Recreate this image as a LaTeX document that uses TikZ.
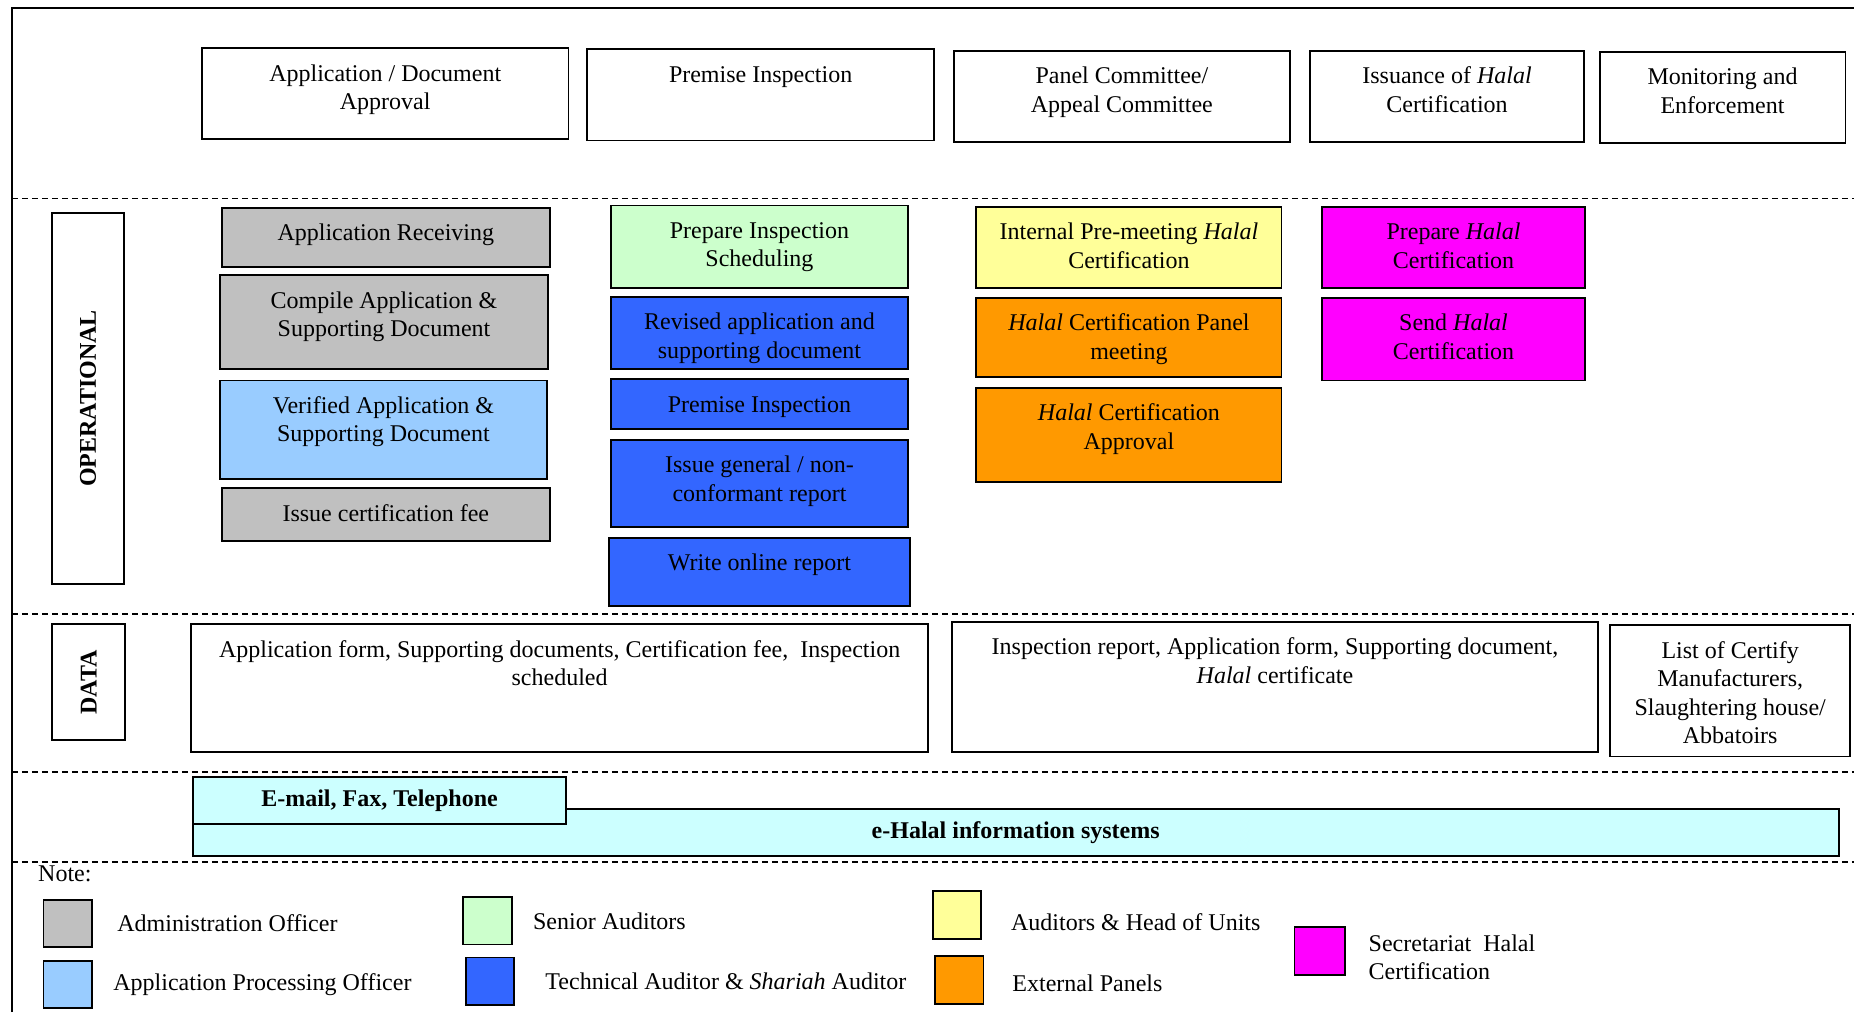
\documentclass[tikz,border=0pt]{standalone}
\usepackage{xcolor}
\usepackage{fontspec}
\usepackage{tikz}
\usetikzlibrary{positioning}
\setmainfont{Liberation Serif}

\definecolor{admgray}{HTML}{C0C0C0}
\definecolor{apoblue}{HTML}{99CCFF}
\definecolor{srgreen}{HTML}{CCFFCC}
\definecolor{techblue}{HTML}{3366FF}
\definecolor{headyellow}{HTML}{FFFF99}
\definecolor{panelorange}{HTML}{FF9900}
\definecolor{secmagenta}{HTML}{FF00FF}
\definecolor{syscyan}{HTML}{CCFFFF}

\def\upx{0.5912pt}

\begin{document}
\fontsize{12pt}{14.2pt}\selectfont
\begin{tikzpicture}[x=0.5912pt, y=-0.5912pt,
    cell/.style={draw, line width=0.95pt, anchor=north west, align=center, inner sep=0pt},
    % width, height, number of lines
    wh/.style n args={3}{minimum width=#1*\upx, text height={(4+24*#3)*\upx}, text depth={(#2-4-24*#3)*\upx}},
    sysbox/.style={draw, line width=0.95pt, fill=syscyan, font=\bfseries, inner sep=0pt},
    swatch/.style={draw, line width=0.95pt, anchor=north west, inner sep=0pt, minimum width=41*\upx, minimum height=40*\upx},
    legend/.style={inner sep=0pt, align=left},
    sep/.style={dash pattern=on 3pt off 2pt, line width=0.85pt}]
    \useasboundingbox (0,0) rectangle (1568,856);

    % frame and row separators
    \draw[line width=1pt] (10,856) -- (10,7) -- (1568,7);
    \foreach \y in {168,519,653,729}
        \draw[sep] (10,\y) -- (1568,\y);

    % stages
    \node[cell, wh={310}{77}{2}] (approval) at (170,40) {Application / Document\\Approval};
    \node[cell, wh={293}{77}{1}] (inspect) at (496,41) {Premise Inspection};
    \node[cell, wh={284}{77}{2}] (committee) at (806,42) {Panel Committee/\\Appeal Committee};
    \node[cell, wh={232}{77}{2}] (issuance) at (1107,42) {Issuance of \textit{Halal}\\Certification};
    \node[cell, wh={208}{77}{2}] (monitor) at (1352,43) {Monitoring and\\Enforcement};

    % operational
    \node[draw, line width=0.95pt, rotate=90, font=\bfseries, minimum width=314*\upx, minimum height=61*\upx] (oplabel) at (74.5,337) {OPERATIONAL};

    \node[cell, fill=admgray, wh={277}{50}{1}] (receive) at (187,175) {Application Receiving};
    \node[cell, fill=admgray, wh={278}{79}{2}] (compile) at (185,232) {Compile Application \&\\Supporting Document};
    \node[cell, fill=apoblue, wh={277}{83}{2}] (verify) at (185,321) {Verified Application \&\\Supporting Document};
    \node[cell, fill=admgray, wh={277}{45}{1}] (fee) at (187,412) {Issue certification fee};

    \node[cell, fill=srgreen, wh={251}{70}{2}] (schedule) at (516,173) {Prepare Inspection\\Scheduling};
    \node[cell, fill=techblue, wh={251}{61}{2}] (revise) at (516,250) {Revised application and\\supporting document};
    \node[cell, fill=techblue, wh={251}{42}{1}] (premise) at (516,320) {Premise Inspection};
    \node[cell, fill=techblue, wh={251}{74}{2}] (ncreport) at (516,371) {Issue general / non-\\conformant report};
    \node[cell, fill=techblue, wh={255}{58}{1}] (online) at (514,454) {Write online report};

    \node[cell, fill=headyellow, wh={258}{69}{2}] (premeet) at (825,174) {Internal Pre-meeting \textit{Halal}\\Certification};
    \node[cell, fill=panelorange, wh={258}{67}{2}] (panel) at (825,251) {\textit{Halal} Certification Panel\\meeting};
    \node[cell, fill=panelorange, wh={258}{80}{2}] (approve) at (825,327) {\textit{Halal} Certification\\Approval};

    \node[cell, fill=secmagenta, wh={223}{69}{2}] (prepcert) at (1117,174) {Prepare \textit{Halal}\\Certification};
    \node[cell, fill=secmagenta, wh={223}{70}{2}] (sendcert) at (1117,251) {Send \textit{Halal}\\Certification};

    % data
    \node[draw, line width=0.95pt, rotate=90, font=\bfseries, minimum width=98*\upx, minimum height=62*\upx] (datalabel) at (75,577) {DATA};

    \node[cell, wh={623}{108}{2}] (appdata) at (161,527) {Application form, Supporting documents, Certification fee,\ \ Inspection\\scheduled};
    \node[cell, wh={547}{110}{2}] (inspdata) at (804,525) {Inspection report, Application form, Supporting document,\\\textit{Halal} certificate};
    \node[cell, wh={203}{111}{4}] (listdata) at (1361,528) {List of Certify\\Manufacturers,\\Slaughtering house/\\Abbatoirs};

    % systems
    \node[sysbox, minimum width=1392*\upx, minimum height=40*\upx] (ehalal) at (859,704) {e-Halal information systems};
    \node[sysbox, minimum width=316*\upx, minimum height=40*\upx] (email) at (321,677) {E-mail, Fax, Telephone};

    % note
    \node[inner sep=0pt, anchor=west] (note) at (32,739) {Note:};

    \node[swatch, fill=admgray] (swadm) at (36,760) {};
    \node[legend, right=12pt of swadm] (lbadm) {Administration Officer};
    \node[swatch, fill=apoblue] (swapo) at (36,812) {};
    \node[legend, right=10pt of swapo] (lbapo) {Application Processing Officer};
    \node[swatch, fill=srgreen] (swsr) at (391,758) {};
    \node[legend, right=10pt of swsr] (lbsr) {Senior Auditors};
    \node[swatch, fill=techblue] (swtech) at (393,809) {};
    \node[legend, right=15pt of swtech] (lbtech) {Technical Auditor \& \textit{Shariah} Auditor};
    \node[swatch, fill=headyellow] (swhead) at (788,753) {};
    \node[legend, right=14.3pt of swhead, yshift=-3.5pt] (lbhead) {Auditors \& Head of Units};
    \node[swatch, fill=panelorange] (swpanel) at (790,808) {};
    \node[legend, right=13.8pt of swpanel, yshift=-1.5pt] (lbpanel) {External Panels};
    \node[swatch, fill=secmagenta, minimum width=43*\upx, minimum height=41*\upx] (swsec) at (1094,783) {};
    \node[legend, right=11pt of swsec, yshift=-3pt] (lbsec) {Secretariat\ \ Halal\\Certification};
\end{tikzpicture}
\end{document}
